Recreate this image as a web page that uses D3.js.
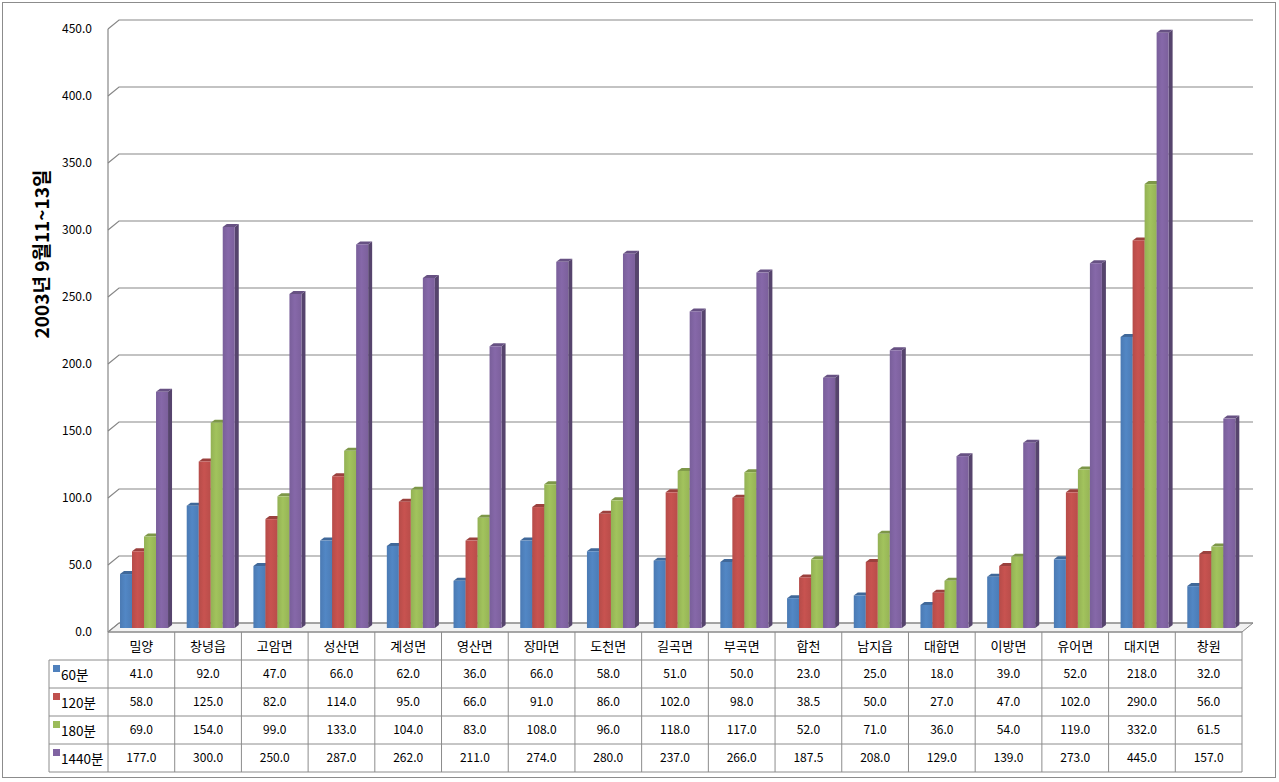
<!DOCTYPE html>
<html><head><meta charset="utf-8">
<script src="https://cdn.jsdelivr.net/npm/d3@7"></script>
<style>body{margin:0;background:#fff}svg{display:block}</style>
</head><body>
<svg id="c" width="1279" height="782"></svg>
<script>
const categories = ["밀양","창녕읍","고암면","성산면","계성면","영산면","장마면","도천면","길곡면","부곡면","합천","남지읍","대합면","이방면","유어면","대지면","창원"];
const seriesNames = ["60분","120분","180분","1440분"];
const s60 = [41,92,47,66,62,36,66,58,51,50,23,25,18,39,52,218,32];
const s120 = [58,125,82,114,95,66,91,86,102,98,38.5,50,27,47,102,290,56];
const s180 = [69,154,99,133,104,83,108,96,118,117,52,71,36,54,119,332,61.5];
const s1440 = [177,300,250,287,262,211,274,280,237,266,187.5,208,129,139,273,445,157];
const yTicks = [0,50,100,150,200,250,300,350,400,450];
const yTitle = "2003년 9월11~13일";
const colors = ["#4F81BD","#C0504D","#9BBB59","#8064A2"];
const series = [s60,s120,s180,s1440];

const svg = d3.select("#c");
const font = "'Noto Sans CJK KR', 'DejaVu Sans', sans-serif";
const left = 108, right = 1242, floorY = 632, topY = 29;
const DX = 11, DY = -9;     // wall depth
const bdx = 4, bdy = -3;    // bar depth
const y = d3.scaleLinear().domain([0,450]).range([floorY, topY]);
const x = d3.scaleBand().domain(categories).range([left, right]);
const bw = x.bandwidth();

// outer border
svg.append("rect").attr("x",2.5).attr("y",2.5).attr("width",1273).attr("height",775)
  .attr("fill","#fff").attr("stroke","#8c8c8c");

// defs gradients
const defs = svg.append("defs");
colors.forEach((c,i)=>{
  const g = defs.append("linearGradient").attr("id","g"+i).attr("x1","0").attr("x2","1").attr("y1","0").attr("y2","0");
  const base = d3.color(c);
  g.append("stop").attr("offset","0%").attr("stop-color",base.darker(0.15));
  g.append("stop").attr("offset","45%").attr("stop-color",base.brighter(0.12));
  g.append("stop").attr("offset","100%").attr("stop-color",base.darker(0.1));
});

const gridColor = "#878787";
// floor
svg.append("path").attr("d",`M${left},${floorY}L${right},${floorY}L${right+DX},${floorY+DY}L${left+DX},${floorY+DY}Z`)
  .attr("fill","#f2f2f2").attr("stroke",gridColor);
// gridlines
yTicks.forEach(t=>{
  const yy = y(t);
  svg.append("path").attr("d",`M${left},${yy}L${left+DX},${yy+DY}L${right+DX},${yy+DY}`)
    .attr("fill","none").attr("stroke",gridColor).attr("stroke-width",1.2);
  svg.append("text").attr("x",92).attr("y",yy).attr("dy","0.35em").attr("text-anchor","end")
    .attr("font-family",font).attr("font-size",12).attr("fill","#000").text(d3.format(".1f")(t));
});
svg.append("line").attr("x1",left).attr("x2",left).attr("y1",topY).attr("y2",floorY).attr("stroke",gridColor).attr("stroke-width",1.2);

// y title
svg.append("text").attr("transform",`translate(49,${254}) rotate(-90)`).attr("text-anchor","middle")
  .attr("font-family",font).attr("font-size",19).attr("font-weight","bold").attr("fill","#000").text(yTitle);

// bars
const bar0 = bw*0.18, barW = bw*0.18;
const mdx = 5, mdy = -4; // mid-depth offset
categories.forEach((cat,ci)=>{
  series.forEach((s,si)=>{
    const v = s[ci];
    const x0 = x(cat) + bar0 + si*barW;
    const x1 = x0 + barW;
    const yb = y(0) + mdy, yt = y(v) + mdy + 1;
    const c = d3.color(colors[si]);
    const g = svg.append("g");
    // side
    g.append("path").attr("d",`M${x1},${yb}L${x1+bdx},${yb+bdy}L${x1+bdx},${yt+bdy}L${x1},${yt}Z`).attr("fill",c.darker(1.1));
    // top
    g.append("path").attr("d",`M${x0},${yt}L${x0+bdx},${yt+bdy}L${x1+bdx},${yt+bdy}L${x1},${yt}Z`).attr("fill",c.darker(0.6));
    // front
    g.append("rect").attr("x",x0).attr("y",yt).attr("width",barW).attr("height",yb-yt).attr("fill",`url(#g${si})`);
  });
});

// data table
const tblColor = "#8c8c8c";
const rowTops = [632,660,688,716,744,772];
const legLeft = 49;
const tg = svg.append("g").attr("stroke",tblColor).attr("stroke-width",1).attr("fill","none");
// category row
tg.append("line").attr("x1",left).attr("x2",right).attr("y1",rowTops[0]).attr("y2",rowTops[0]);
for(let r=1;r<rowTops.length;r++){
  tg.append("line").attr("x1",legLeft).attr("x2",right).attr("y1",rowTops[r]).attr("y2",rowTops[r]);
}
tg.append("line").attr("x1",legLeft).attr("x2",legLeft).attr("y1",rowTops[1]).attr("y2",rowTops[5]);
categories.forEach(cat=>{
  tg.append("line").attr("x1",x(cat)).attr("x2",x(cat)).attr("y1",rowTops[0]).attr("y2",rowTops[5]);
});
tg.append("line").attr("x1",right).attr("x2",right).attr("y1",rowTops[0]).attr("y2",rowTops[5]);

categories.forEach((cat,ci)=>{
  svg.append("text").attr("x",x(cat)+bw/2).attr("y",(rowTops[0]+rowTops[1])/2).attr("dy","0.36em")
    .attr("text-anchor","middle").attr("font-family",font).attr("font-size",13).attr("fill","#000").text(cat);
  series.forEach((s,si)=>{
    svg.append("text").attr("x",x(cat)+bw/2).attr("y",(rowTops[si+1]+rowTops[si+2])/2).attr("dy","0.36em")
      .attr("text-anchor","middle").attr("font-family",font).attr("font-size",12).attr("fill","#000").text(d3.format(".1f")(s[ci]));
  });
});
seriesNames.forEach((n,si)=>{
  const cy = (rowTops[si+1]+rowTops[si+2])/2;
  svg.append("rect").attr("x",53).attr("y",cy-9).attr("width",7).attr("height",7).attr("fill",colors[si]);
  svg.append("text").attr("x",61).attr("y",cy+1).attr("dy","0.36em").attr("font-family",font).attr("font-size",13.5).attr("fill","#000").text(n);
});
</script>
</body></html>
